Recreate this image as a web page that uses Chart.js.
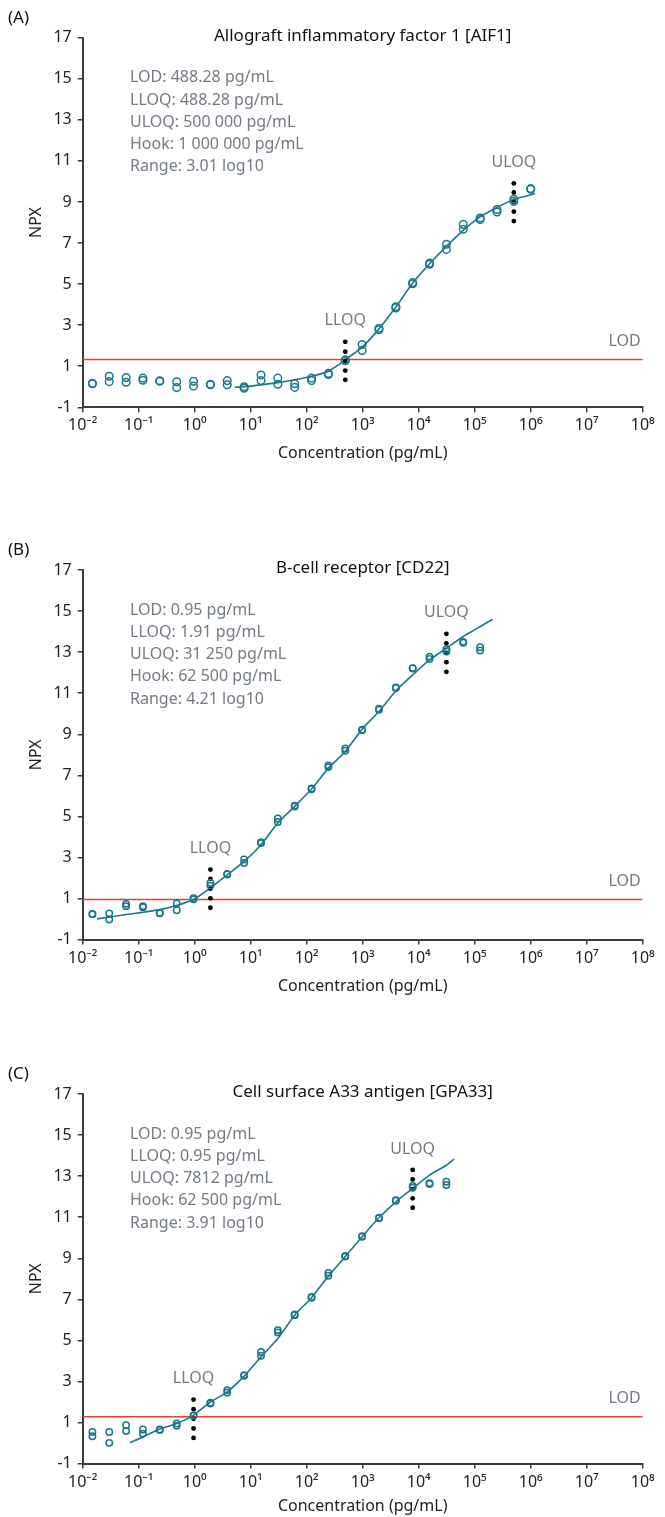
<!DOCTYPE html>
<html>
<head>
<meta charset="utf-8">
<script src="https://cdn.jsdelivr.net/npm/chart.js@4.4.1/dist/chart.umd.min.js"></script>
<style>
  html, body { margin: 0; padding: 0; background: #fff; }
  #wrap { position: relative; width: 665px; height: 1517px; }
  canvas { position: absolute; left: 0; }
</style>
</head>
<body>
<div id="wrap">
  <canvas id="chartA" width="665" height="500" style="top:0px"></canvas>
  <canvas id="chartB" width="665" height="524" style="top:500px"></canvas>
  <canvas id="chartC" width="665" height="493" style="top:1024px"></canvas>
</div>
<script>
// ---- data ----
const xTickValues = [1e-2, 1e-1, 1e0, 1e1, 1e2, 1e3, 1e4, 1e5, 1e6, 1e7, 1e8];
const xTickLabels = ['10⁻²', '10⁻¹', '10⁰', '10¹', '10²', '10³', '10⁴', '10⁵', '10⁶', '10⁷', '10⁸'];

// Panel A: AIF1
const concA = [0.0149, 0.0298, 0.0596, 0.119, 0.238, 0.477, 0.954, 1.91, 3.81, 7.63, 15.3, 30.5, 61.0, 122, 244, 488, 977, 1953, 3906, 7812, 15625, 31250, 62500, 125000, 250000, 500000, 1000000];
const repA1 = [0.17, 0.51, 0.45, 0.42, 0.29, 0.24, 0.27, 0.12, 0.30, 0.00, 0.57, 0.42, 0.15, 0.42, 0.65, 1.31, 2.06, 2.85, 3.90, 5.07, 6.02, 6.94, 7.91, 8.22, 8.63, 9.13, 9.65];
const repA2 = [0.15, 0.25, 0.22, 0.32, 0.27, -0.04, 0.03, 0.10, 0.10, -0.07, 0.30, 0.12, -0.03, 0.30, 0.60, 1.27, 1.77, 2.78, 3.84, 5.02, 5.96, 6.69, 7.67, 8.14, 8.51, 9.03, 9.62];
const fitConcA = [5.2, 7.63, 15.3, 30.5, 61.0, 122, 244, 488, 977, 1953, 3906, 7812, 15625, 31250, 62500, 125000, 250000, 500000, 1200000];
const fitNpxA = [-0.02, 0.0, 0.09, 0.20, 0.34, 0.51, 0.76, 1.31, 1.93, 2.82, 3.88, 5.05, 5.99, 6.84, 7.62, 8.27, 8.73, 9.12, 9.41];
const lloqDotsA = [2.19, 1.71, 1.26, 0.79, 0.34];
const uloqDotsA = [9.91, 9.46, 9.00, 8.53, 8.07];

// Panel B: CD22
const concB = [0.0149, 0.0298, 0.0596, 0.119, 0.238, 0.477, 0.954, 1.91, 3.81, 7.63, 15.3, 30.5, 61.0, 122, 244, 488, 977, 1953, 3906, 7812, 15625, 31250, 62500, 125000];
const repB1 = [0.25, 0.27, 0.74, 0.63, 0.30, 0.76, 1.02, 1.76, 2.20, 2.90, 3.74, 4.90, 5.52, 6.36, 7.48, 8.31, 9.22, 10.24, 11.28, 12.22, 12.78, 13.14, 13.50, 13.24];
const repB2 = [0.23, -0.02, 0.63, 0.58, 0.28, 0.43, 0.96, 1.63, 2.17, 2.73, 3.70, 4.73, 5.48, 6.32, 7.40, 8.20, 9.20, 10.20, 11.25, 12.20, 12.67, 13.03, 13.46, 13.08];
const fitConcB = [0.018, 0.06, 0.238, 0.477, 0.954, 1.91, 3.81, 7.63, 15.3, 30.5, 61.0, 122, 244, 488, 977, 1953, 3906, 7812, 15625, 31250, 62500, 88000, 209000];
const fitNpxB = [0.01, 0.22, 0.46, 0.66, 0.95, 1.52, 2.15, 2.81, 3.62, 4.68, 5.49, 6.33, 7.35, 8.16, 9.25, 10.11, 11.11, 11.89, 12.62, 13.19, 13.76, 14.0, 14.6];
const lloqDotsB = [2.41, 1.96, 1.48, 1.01, 0.55];
const uloqDotsB = [13.89, 13.43, 12.96, 12.51, 12.04];

// Panel C: GPA33
const concC = [0.0149, 0.0298, 0.0596, 0.119, 0.238, 0.477, 0.954, 1.91, 3.81, 7.63, 15.3, 30.5, 61.0, 122, 244, 488, 977, 1953, 3906, 7812, 15625, 31250];
const repC1 = [0.54, 0.54, 0.87, 0.66, 0.66, 0.95, 1.36, 1.96, 2.58, 3.31, 4.44, 5.50, 6.26, 7.11, 8.29, 9.11, 10.08, 10.97, 11.83, 12.52, 12.65, 12.73];
const repC2 = [0.33, 0.01, 0.59, 0.46, 0.64, 0.84, 1.33, 1.93, 2.46, 3.28, 4.25, 5.39, 6.23, 7.08, 8.15, 9.08, 10.05, 10.95, 11.80, 12.44, 12.62, 12.57];
const fitConcC = [0.07, 0.119, 0.238, 0.477, 0.954, 1.91, 3.81, 7.63, 15.3, 30.5, 61.0, 122, 244, 488, 977, 1953, 3906, 7812, 15625, 31250, 42700];
const fitNpxC = [0.03, 0.30, 0.68, 0.95, 1.36, 2.00, 2.49, 3.26, 4.20, 5.09, 6.23, 7.08, 8.13, 9.08, 10.05, 10.97, 11.75, 12.40, 13.05, 13.53, 13.83];
const lloqDotsC = [2.12, 1.65, 1.18, 0.71, 0.25];
const uloqDotsC = [13.30, 12.84, 12.37, 11.92, 11.46];

const panels = [
  {
    id: 'chartA', letter: '(A)', title: 'Allograft inflammatory factor 1 [AIF1]',
    stats: ['LOD: 488.28 pg/mL', 'LLOQ: 488.28 pg/mL', 'ULOQ: 500 000 pg/mL', 'Hook: 1 000 000 pg/mL', 'Range: 3.01 log10'],
    conc: concA, rep1: repA1, rep2: repA2, fitConc: fitConcA, fitNpx: fitNpxA,
    lod: 1.33, lloq: 488.28, uloq: 500000, lloqDots: lloqDotsA, uloqDots: uloqDotsA,
    padTop: 37.7, xHeight: 56, radius: 3.8
  },
  {
    id: 'chartB', letter: '(B)', title: 'B-cell receptor [CD22]',
    stats: ['LOD: 0.95 pg/mL', 'LLOQ: 1.91 pg/mL', 'ULOQ: 31 250 pg/mL', 'Hook: 62 500 pg/mL', 'Range: 4.21 log10'],
    conc: concB, rep1: repB1, rep2: repB2, fitConc: fitConcB, fitNpx: fitNpxB,
    lod: 0.95, lloq: 1.91, uloq: 31250, lloqDots: lloqDotsB, uloqDots: uloqDotsB,
    padTop: 70, xHeight: 56, radius: 3.2
  },
  {
    id: 'chartC', letter: '(C)', title: 'Cell surface A33 antigen [GPA33]',
    stats: ['LOD: 0.95 pg/mL', 'LLOQ: 0.95 pg/mL', 'ULOQ: 7812 pg/mL', 'Hook: 62 500 pg/mL', 'Range: 3.91 log10'],
    conc: concC, rep1: repC1, rep2: repC2, fitConc: fitConcC, fitNpx: fitNpxC,
    lod: 1.28, lloq: 0.954, uloq: 7812, lloqDots: lloqDotsC, uloqDots: uloqDotsC,
    padTop: 70, xHeight: 52, radius: 3.2
  }
];

const TEAL = '#18798a';
const RED = '#ee3d2d';
const GREY = '#737b85';
const AXIS = '#3a3a3a';
const FONT = '"Noto Sans", "Open Sans", sans-serif';
const PLOT_H = 369.6; // height of the -1..17 plot area

Chart.defaults.font.family = FONT;
Chart.defaults.color = '#222';

const toPoints = (xs, ys) => xs.map((x, i) => ({ x, y: ys[i] }));

// labels, title and stats text drawn on top of the chart
const textPlugin = {
  id: 'panelText',
  afterDraw(chart) {
    const p = chart.options.plugins.panelText;
    const ctx = chart.ctx;
    const a = chart.chartArea;
    const xs = chart.scales.x, ys = chart.scales.y;
    ctx.save();
    ctx.textBaseline = 'middle';

    ctx.fillStyle = '#111';
    ctx.font = '17px ' + FONT;
    ctx.textAlign = 'left';
    ctx.fillText(p.letter, 8, a.top - 20);
    ctx.textAlign = 'center';
    ctx.fillText(p.title, (a.left + a.right) / 2, a.top - 2);

    ctx.fillStyle = GREY;
    ctx.font = '16px ' + FONT;
    ctx.textAlign = 'left';
    p.stats.forEach((s, i) => ctx.fillText(s, 130, a.top + 40 + i * 22.3));

    ctx.textAlign = 'center';
    ctx.fillText('LLOQ', xs.getPixelForValue(p.lloq), ys.getPixelForValue(p.lloqDots[0]) - 21);
    ctx.fillText('ULOQ', xs.getPixelForValue(p.uloq), ys.getPixelForValue(p.uloqDots[0]) - 21);
    ctx.textAlign = 'right';
    ctx.fillText('LOD', a.right - 2, ys.getPixelForValue(p.lod) - 18);
    ctx.restore();
  }
};

function makePanel(p) {
  const canvas = document.getElementById(p.id);
  const padBottom = canvas.height - p.padTop - PLOT_H - p.xHeight;
  return new Chart(canvas.getContext('2d'), {
    type: 'scatter',
    data: {
      datasets: [
        {
          data: toPoints(p.conc, p.rep1), showLine: false,
          pointStyle: 'circle', pointRadius: p.radius, pointBorderWidth: 1.5,
          pointBorderColor: TEAL, pointBackgroundColor: 'rgba(0,0,0,0)'
        },
        {
          data: toPoints(p.conc, p.rep2), showLine: false,
          pointStyle: 'circle', pointRadius: p.radius, pointBorderWidth: 1.5,
          pointBorderColor: TEAL, pointBackgroundColor: 'rgba(0,0,0,0)'
        },
        {
          data: p.lloqDots.map(y => ({ x: p.lloq, y })), showLine: false,
          pointRadius: 2.4, pointBorderWidth: 0, pointBackgroundColor: '#000'
        },
        {
          data: p.uloqDots.map(y => ({ x: p.uloq, y })), showLine: false,
          pointRadius: 2.4, pointBorderWidth: 0, pointBackgroundColor: '#000'
        },
        {
          data: toPoints(p.fitConc, p.fitNpx), showLine: true, tension: 0.25,
          borderColor: TEAL, borderWidth: 1.6, pointRadius: 0
        },
        {
          data: [{ x: 1e-2, y: p.lod }, { x: 1e8, y: p.lod }], showLine: true,
          borderColor: RED, borderWidth: 1.6, pointRadius: 0
        }
      ]
    },
    options: {
      responsive: false,
      animation: false,
      devicePixelRatio: 1,
      layout: { padding: { left: 27, right: 22.3, top: p.padTop, bottom: padBottom } },
      plugins: {
        legend: { display: false },
        tooltip: { enabled: false },
        panelText: p
      },
      scales: {
        x: {
          type: 'logarithmic', min: 1e-2, max: 1e8,
          afterBuildTicks: s => { s.ticks = xTickValues.map(v => ({ value: v })); },
          afterFit: s => { s.height = p.xHeight; },
          border: { display: true, color: AXIS, width: 2 },
          grid: { display: true, drawOnChartArea: false, drawTicks: true, tickLength: 5, color: AXIS, lineWidth: 1.5 },
          ticks: {
            autoSkip: false, maxRotation: 0, padding: 4,
            font: { size: 16 }, color: '#222',
            callback: v => xTickLabels[xTickValues.indexOf(v)] ?? ''
          },
          title: { display: true, text: 'Concentration (pg/mL)', font: { size: 16 }, color: '#222', padding: 0 }
        },
        y: {
          type: 'linear', min: -1, max: 17,
          afterFit: s => { s.width = 55.7; },
          border: { display: true, color: AXIS, width: 2 },
          grid: { display: true, drawOnChartArea: false, drawTicks: true, tickLength: 5, color: AXIS, lineWidth: 1.5 },
          ticks: { stepSize: 2, padding: 6, font: { size: 16 }, color: '#222' },
          title: { display: true, text: 'NPX', font: { size: 16 }, color: '#222', padding: 0 }
        }
      }
    },
    plugins: [textPlugin]
  });
}

panels.forEach(makePanel);
</script>
</body>
</html>
